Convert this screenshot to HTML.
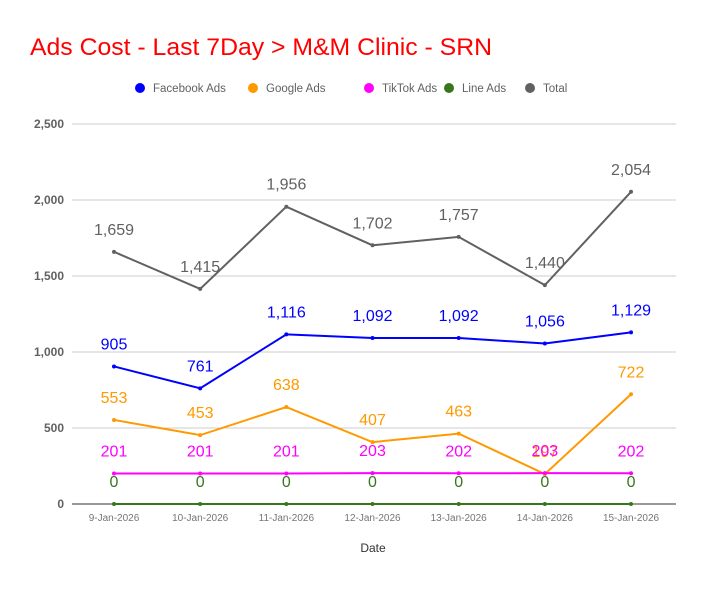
<!DOCTYPE html>
<html><head><meta charset="utf-8"><style>
body{margin:0;background:#fff;font-family:"Liberation Sans",Roboto,sans-serif}
</style></head><body>
<svg id="chart" width="704" height="585" xmlns="http://www.w3.org/2000/svg" font-family="Liberation Sans, sans-serif">
<rect width="704" height="585" fill="#fff"/>
<text x="30" y="55" font-size="24" fill="#ff0000" textLength="462" lengthAdjust="spacingAndGlyphs">Ads Cost - Last 7Day &gt; M&amp;M Clinic - SRN</text>
<g id="legend"></g>
<g id="grid"></g><g id="series"></g><g id="labels"></g>
<text x="373" y="552" font-size="12" fill="#333" text-anchor="middle">Date</text>
</svg>
<script>
const categories=["9-Jan-2026","10-Jan-2026","11-Jan-2026","12-Jan-2026","13-Jan-2026","14-Jan-2026","15-Jan-2026"];
const facebook=[905,761,1116,1092,1092,1056,1129];
const google=[553,453,638,407,463,197,722];
const tiktok=[201,201,201,203,202,203,202];
const lineAds=[0,0,0,0,0,0,0];
const total=[1659,1415,1956,1702,1757,1440,2054];
const yTicks=[0,500,1000,1500,2000,2500];
const yTickLabels=["0","500","1,000","1,500","2,000","2,500"];
const seriesNames=["Facebook Ads","Google Ads","TikTok Ads","Line Ads","Total"];
const NS="http://www.w3.org/2000/svg";
const colors=["#0000ff","#ff9900","#ff00ff","#38761d","#616161"];
const allSeries=[facebook,google,tiktok,lineAds,total];
const x=i=>114+i*86.17;
const y=v=>504-v*0.152;
function mk(tag,attrs,parent,text){const e=document.createElementNS(NS,tag);for(const k in attrs)e.setAttribute(k,attrs[k]);if(text!==undefined)e.textContent=text;parent.appendChild(e);return e;}
const grid=document.getElementById('grid');
yTicks.forEach((t,i)=>{
 const l=mk('line',{x1:72,x2:676,y1:y(t),y2:y(t),stroke:t===0?'#333':'#ccc','stroke-width':1},grid);
 
 
 const tx=mk('text',{x:64,y:y(t)+4,'font-size':12,'font-weight':'bold',fill:'#616161','text-anchor':'end'},grid,yTickLabels[i]);
 
 
});
categories.forEach((c,i)=>{
 const tx=mk('text',{x:x(i),y:521,'font-size':10,fill:'#757575','text-anchor':'middle'},grid,c);
 
 
});
const sg=document.getElementById('series'),lg=document.getElementById('labels');
allSeries.forEach((s,k)=>{
 const p=mk('polyline',{points:s.map((v,i)=>x(i)+','+y(v)).join(' '),fill:'none',stroke:colors[k],'stroke-width':2},sg);
 
 
 s.forEach((v,i)=>{
  const d=mk('circle',{cx:x(i),cy:y(v),r:2,fill:colors[k]},sg);
  
  
  const t=mk('text',{x:x(i),y:y(v)-17,'font-size':16,fill:colors[k],'text-anchor':'middle'},lg,v.toLocaleString('en-US'));
  
  
 });
});
const leg=document.getElementById('legend');
const lx=[136,249,365,445,526];
seriesNames.forEach((n,k)=>{
 const c=mk('circle',{cx:lx[k]+4,cy:88,r:5,fill:colors[k]},leg);
 
 
 const t=mk('text',{x:lx[k]+17,y:92,'font-size':11.5,fill:'#616161'},leg,n);
 
 
});
</script>
</body></html>
